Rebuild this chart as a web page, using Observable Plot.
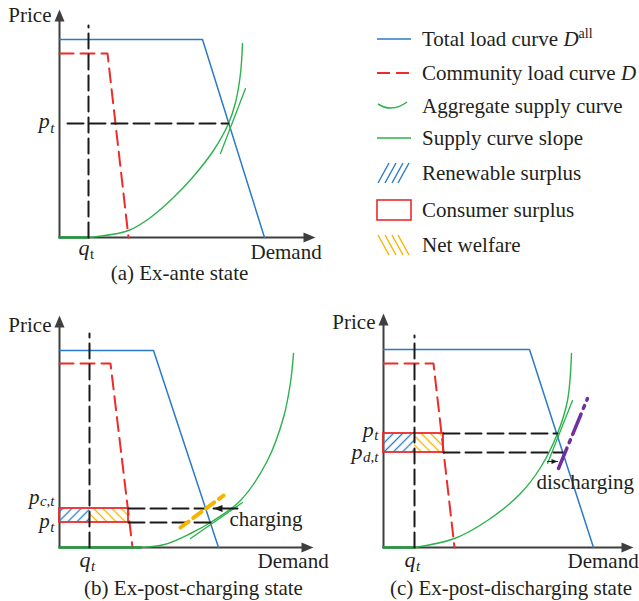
<!DOCTYPE html>
<html><head><meta charset="utf-8">
<script src="https://cdn.jsdelivr.net/npm/d3@7"></script>
<script src="https://cdn.jsdelivr.net/npm/@observablehq/plot@0.6"></script>
<style>
body{margin:0;background:#fff;}
#fig{position:relative;width:639px;height:601px;overflow:hidden;background:#fff;}
#fig svg{position:absolute;overflow:visible;}
</style></head><body>
<svg width="0" height="0" style="position:absolute">
<defs>
<pattern id="hatchBlue" patternUnits="userSpaceOnUse" width="6.5" height="6.5" patternTransform="rotate(45)">
<line x1="3.25" y1="-1" x2="3.25" y2="7.5" stroke="#2a7ac8" stroke-width="1.3"/>
</pattern>
<pattern id="hatchYellow" patternUnits="userSpaceOnUse" width="6.5" height="6.5" patternTransform="rotate(-45)">
<line x1="3.25" y1="-1" x2="3.25" y2="7.5" stroke="#f5b400" stroke-width="1.3"/>
</pattern>
</defs></svg>
<div id="fig"></div>
<script>
// ================= DATA (demand, price) =================
// (a) Ex-ante state
const aTotalLoad = [[0, 19.8], [14.3, 19.8], [20.5, 0]];
const aCommunityLoad = [[0, 18.4], [4.8, 18.4], [6.9, 0]];
const aSupplyOnAxis = [[0, 0], [2.9, 0]];
const aSupplyCurve = [[2.9, 0], [6.9, 0.7], [9.1, 2.0], [11.4, 4.0], [13.3, 6.0], [15.4, 8.7], [16.9, 11.4], [17.6, 13.5], [18.1, 16.4], [18.3, 19.4]];
const aSupplySlope = [[16.1, 8.4], [18.6, 14.9]];
const aQuantity = [{label: "q", sub: "t", value: 2.9, top: 21.2}];
const aPrices = [{label: "p", sub: "t", value: 11.4, from: 0.8, to: 16.9}];

// (b) Ex-post-charging state
const bTotalLoad = [[0, 19.7], [9.4, 19.7], [15.9, 0]];
const bCommunityLoad = [[0, 18.4], [5.1, 18.4], [7.3, 0]];
const bSupplyOnAxis = [[0, 0], [8.1, 0]];
const bSupplyCurve = [[8.1, 0], [10.5, 0.3], [13.1, 1.4], [15.1, 2.5], [18.1, 4.7], [20.8, 8.7], [22.4, 13.0], [23.1, 16.5], [23.4, 19.4]];
const bSupplySlope = [[13.1, 0.9], [18.3, 4.5]];
const bShiftedSupply = [[12.1, 2.0], [16.4, 5.2]];
const bShiftArrow = [[17.8, 3.9], [15.4, 3.9]];
const bQuantity = [{label: "q", sub: "t", value: 3.0, top: 21.4}];
const bPrices = [{label: "p", sub: "c,t", value: 3.9, from: 6.9, to: 14.7}, {label: "p", sub: "t", value: 2.5, from: 6.9, to: 15.1}];
const bSurplus = [{low: 2.5, high: 3.9, right: 6.9}];

// (c) Ex-post-discharging state
const cTotalLoad = [[0, 19.8], [14.6, 19.8], [21.0, 0]];
const cCommunityLoad = [[0, 18.4], [5.0, 18.4], [7.1, 0]];
const cSupplyOnAxis = [[0, 0], [3.1, 0]];
const cSupplyCurve = [[3.1, 0], [7.1, 0.9], [10.4, 2.7], [13.7, 5.4], [15.7, 8.0], [17.4, 11.4], [18.4, 14.7], [18.8, 19.4]];
const cSupplySlope = [[16.4, 8.4], [18.9, 14.7]];
const cShiftedSupply = [[17.5, 7.9], [20.4, 14.9]];
const cShiftArrow = [[16.4, 8.6], [17.4, 8.6]];
const cQuantity = [{label: "q", sub: "t", value: 3.1, top: 21.2}];
const cPrices = [{label: "p", sub: "t", value: 11.4, from: 6.0, to: 17.4}, {label: "p", sub: "d,t", value: 9.5, from: 6.0, to: 17.95}];
const cSurplus = [{low: 9.5, high: 11.4, right: 6.0}];

// texts
const panelCaptions = ["(a) Ex-ante state", "(b) Ex-post-charging state", "(c) Ex-post-discharging state"];
const axisLabels = ["Price", "Demand"];
const shiftNotes = ["charging", "discharging"];
const legendLabels = ["Total load curve ", "Community load curve ", "Aggregate supply curve", "Supply curve slope", "Renewable surplus", "Consumer surplus", "Net welfare"];
const legendItalic = ["D", "D", "", "", "", "", ""];
const legendSup = ["all", "", "", "", "", "", ""];

// ================= STYLE =================
const FONT = '"Liberation Serif","Times New Roman",serif';
const INK = "#231f20";
const COL = {blue: "#2a7ac8", red: "#ee2a2a", green: "#2bb24c", greenDark: "#1f9a3c", axis: "#3f3f3f", black: "#1a1a1a", yellow: "#f5b400", purple: "#7030a0"};
const axisHead = {draw(ctx) { ctx.moveTo(0, 0); ctx.lineTo(-5, 12); ctx.lineTo(5, 12); ctx.closePath(); }};
const bigHead = {draw(ctx) { ctx.moveTo(0, 0); ctx.lineTo(-3.5, 9); ctx.lineTo(3.5, 9); ctx.closePath(); }};
const smallHead = {draw(ctx) { ctx.moveTo(0, 0); ctx.lineTo(-2.5, 6); ctx.lineTo(2.5, 6); ctx.closePath(); }};

const cv = document.createElement("canvas").getContext("2d");
function textWidth(s, size, italic) { cv.font = `${italic ? "italic " : ""}${size}px "Liberation Serif"`; return cv.measureText(s).width; }

const fig = document.getElementById("fig");
const X = d => d[0], Y = d => d[1];

function panel(o) {
  const xd = [-o.ox / 10, (o.W - o.ox) / 10], yd = [-(o.H - o.oy) / 10, o.oy / 10];
  const ln = (data, opts) => Plot.line(data, {x: X, y: Y, ...opts});
  const txt = (s, opts) => Plot.text([s], {text: d => d, fontFamily: FONT, fill: INK, lineAnchor: "bottom", ...opts});
  const marks = [];
  // axes
  marks.push(ln([[0, 0], [0, o.yTip - 1]], {stroke: COL.axis, strokeWidth: 2}));
  marks.push(ln([[0, 0], [o.xTip - 1, 0]], {stroke: COL.axis, strokeWidth: 2}));
  marks.push(Plot.dot([[0, o.yTip]], {x: X, y: Y, symbol: axisHead, fill: COL.axis, stroke: "none"}));
  marks.push(Plot.dot([[o.xTip, 0]], {x: X, y: Y, symbol: axisHead, rotate: 90, fill: COL.axis, stroke: "none"}));
  // surplus rectangles
  if (o.surplus) {
    const q = o.quantity[0].value;
    marks.push(Plot.rect(o.surplus, {x1: () => 0, x2: () => q, y1: "low", y2: "high", fill: "url(#hatchBlue)"}));
    marks.push(Plot.rect(o.surplus, {x1: () => q, x2: "right", y1: "low", y2: "high", fill: "url(#hatchYellow)"}));
    marks.push(Plot.rect(o.surplus, {x1: () => 0, x2: "right", y1: "low", y2: "high", fill: "none", stroke: COL.red, strokeWidth: 1.8}));
  }
  // load curves
  marks.push(ln(o.total, {stroke: COL.blue, strokeWidth: 1.5}));
  marks.push(ln(o.community, {stroke: COL.red, strokeWidth: 2, strokeDasharray: "14,7"}));
  // supply
  marks.push(ln(o.supplyCurve, {stroke: COL.green, strokeWidth: 1.4, curve: "catmull-rom"}));
  marks.push(ln(o.supplySlope, {stroke: COL.green, strokeWidth: 1.3}));
  marks.push(ln(o.supplyOnAxis, {stroke: COL.greenDark, strokeWidth: 2.6}));
  // quantity & price guides
  marks.push(Plot.line(o.quantity.flatMap(d => [[d.value, 0], [d.value, d.top]]), {x: X, y: Y, stroke: COL.black, strokeWidth: 2, strokeDasharray: "15,6"}));
  for (const p of o.prices) {
    marks.push(ln([[p.from, p.value], [p.to, p.value]], {stroke: COL.black, strokeWidth: 2, strokeDasharray: "16,6"}));
  }
  // shifted supply & arrow
  if (o.shifted) marks.push(ln(o.shifted, {stroke: o.shiftColor, strokeWidth: o.shiftWidth, strokeDasharray: o.shiftDash}));
  if (o.arrow) {
    marks.push(ln(o.arrow, {stroke: COL.black, strokeWidth: o.arrowWidth}));
    marks.push(Plot.dot([o.arrow[1]], {x: X, y: Y, symbol: o.arrowHead, rotate: o.arrowRotate, fill: COL.black, stroke: "none"}));
  }
  // labels
  marks.push(txt(axisLabels[0], {x: () => 0, y: () => o.priceY, dx: -8, textAnchor: "end", fontSize: 21}));
  marks.push(txt(axisLabels[1], {x: () => o.demandX, y: () => 0, dy: o.demandDy, textAnchor: "start", fontSize: 21}));
  o.prices.forEach((p, i) => {
    const [mDy, sDy, mSize] = o.priceDy[i];
    const sw = textWidth(p.sub, 15, true);
    marks.push(txt(p.sub, {x: () => 0, y: () => p.value, dx: -5, dy: sDy, textAnchor: "end", fontSize: 15, fontStyle: "italic"}));
    marks.push(txt(p.label, {x: () => 0, y: () => p.value, dx: -5 - sw - 0.5, dy: mDy, textAnchor: "end", fontSize: mSize || 22, fontStyle: "italic"}));
  });
  for (const q of o.quantity) {
    marks.push(txt(q.label, {x: () => q.value, y: () => 0, dx: 1, dy: o.qDy, textAnchor: "end", fontSize: 22, fontStyle: "italic"}));
    marks.push(txt(q.sub, {x: () => q.value, y: () => 0, dx: 1.5, dy: o.qDy + 4, textAnchor: "start", fontSize: 15, fontStyle: o.qSubItalic ? "italic" : "normal"}));
  }
  if (o.note) marks.push(txt(o.note, {x: () => o.noteX, y: () => o.noteY, textAnchor: "start", fontSize: 21}));
  marks.push(txt(o.caption, {frameAnchor: "bottom", dx: o.capDx, dy: o.capDy, textAnchor: "middle", fontSize: 21}));

  const svg = Plot.plot({
    width: o.W, height: o.H, margin: 0,
    x: {domain: xd, range: [0, o.W], axis: null},
    y: {domain: yd, range: [o.H, 0], axis: null},
    style: {background: "transparent", overflow: "visible", fontFamily: FONT},
    marks
  });
  svg.style.left = o.left + "px";
  svg.style.top = o.top + "px";
  svg.style.maxWidth = "none";
  fig.appendChild(svg);
}

panel({left: 0, top: 0, W: 330, H: 300, ox: 59, oy: 237, xTip: 25.6, yTip: 22.8,
  total: aTotalLoad, community: aCommunityLoad, supplyOnAxis: aSupplyOnAxis, supplyCurve: aSupplyCurve, supplySlope: aSupplySlope,
  quantity: aQuantity, prices: aPrices, priceDy: [[4, 9]], qDy: 17, qSubItalic: false,
  priceY: 21.6, demandX: 19.1, demandDy: 21, caption: panelCaptions[0], capDx: 14, capDy: -21});

panel({left: 0, top: 300, W: 330, H: 301, ox: 59, oy: 247, xTip: 25.4, yTip: 23.2,
  total: bTotalLoad, community: bCommunityLoad, supplyOnAxis: bSupplyOnAxis, supplyCurve: bSupplyCurve, supplySlope: bSupplySlope,
  quantity: bQuantity, prices: bPrices, priceDy: [[-4.5, -2.5, 21], [5.5, 9.5, 21]], qDy: 19, qSubItalic: true, surplus: bSurplus,
  shifted: bShiftedSupply, shiftColor: COL.yellow, shiftWidth: 4, shiftDash: "10,6",
  arrow: bShiftArrow, arrowHead: bigHead, arrowRotate: -90, arrowWidth: 2,
  note: shiftNotes[0], noteX: 17.0, noteY: 2.2,
  priceY: 21.6, demandX: 19.8, demandDy: 20, caption: panelCaptions[1], capDx: 28, capDy: -7});

panel({left: 320, top: 300, W: 319, H: 301, ox: 63, oy: 247, xTip: 25.0, yTip: 23.4,
  total: cTotalLoad, community: cCommunityLoad, supplyOnAxis: cSupplyOnAxis, supplyCurve: cSupplyCurve, supplySlope: cSupplySlope,
  quantity: cQuantity, prices: cPrices, priceDy: [[3, 6], [6, 9]], qDy: 19, qSubItalic: true, surplus: cSurplus,
  shifted: cShiftedSupply, shiftColor: COL.purple, shiftWidth: 3.5, shiftDash: "22,6,3,6",
  arrow: cShiftArrow, arrowHead: smallHead, arrowRotate: 90, arrowWidth: 1.2,
  note: shiftNotes[1], noteX: 15.3, noteY: 5.9,
  priceY: 21.9, demandX: 18.4, demandDy: 20, caption: panelCaptions[2], capDx: 31, capDy: -7});

// ================= LEGEND =================
const lg = d3.select(fig).append("svg").attr("width", 639).attr("height", 601).style("left", "0px").style("top", "0px");
const rowY = [39, 73, 106, 138, 173, 210, 245];
const sw = lg.append("g");
sw.append("line").attr("x1", 377).attr("x2", 411).attr("y1", rowY[0]).attr("y2", rowY[0]).attr("stroke", COL.blue).attr("stroke-width", 1.5);
sw.append("line").attr("x1", 377).attr("x2", 410).attr("y1", rowY[1]).attr("y2", rowY[1]).attr("stroke", COL.red).attr("stroke-width", 2).attr("stroke-dasharray", "13,6");
sw.append("path").attr("d", `M378,${rowY[2] - 2} Q392,${rowY[2] + 7} 407,${rowY[2] - 4}`).attr("fill", "none").attr("stroke", COL.green).attr("stroke-width", 1.5);
sw.append("line").attr("x1", 377).attr("x2", 411).attr("y1", rowY[3]).attr("y2", rowY[3]).attr("stroke", COL.green).attr("stroke-width", 1.5);
[378, 385, 392, 398].forEach(x0 => sw.append("line").attr("x1", x0).attr("y1", rowY[4] + 10).attr("x2", x0 + 11).attr("y2", rowY[4] - 10).attr("stroke", COL.blue).attr("stroke-width", 1.4));
sw.append("rect").attr("x", 377).attr("y", rowY[5] - 10).attr("width", 34).attr("height", 20).attr("fill", "none").attr("stroke", COL.red).attr("stroke-width", 1.6);
[378, 385, 392, 398].forEach(x0 => sw.append("line").attr("x1", x0).attr("y1", rowY[6] - 10).attr("x2", x0 + 11).attr("y2", rowY[6] + 10).attr("stroke", COL.yellow).attr("stroke-width", 1.4));
legendLabels.forEach((s, i) => {
  const t = lg.append("text").attr("x", 422).attr("y", rowY[i] + 7).attr("font-family", FONT).attr("font-size", 21).attr("fill", INK);
  t.append("tspan").text(s);
  if (legendItalic[i]) t.append("tspan").attr("font-style", "italic").text(legendItalic[i]);
  if (legendSup[i]) t.append("tspan").attr("font-size", 14).attr("dy", -8).text(legendSup[i]);
});
</script>
</body></html>
